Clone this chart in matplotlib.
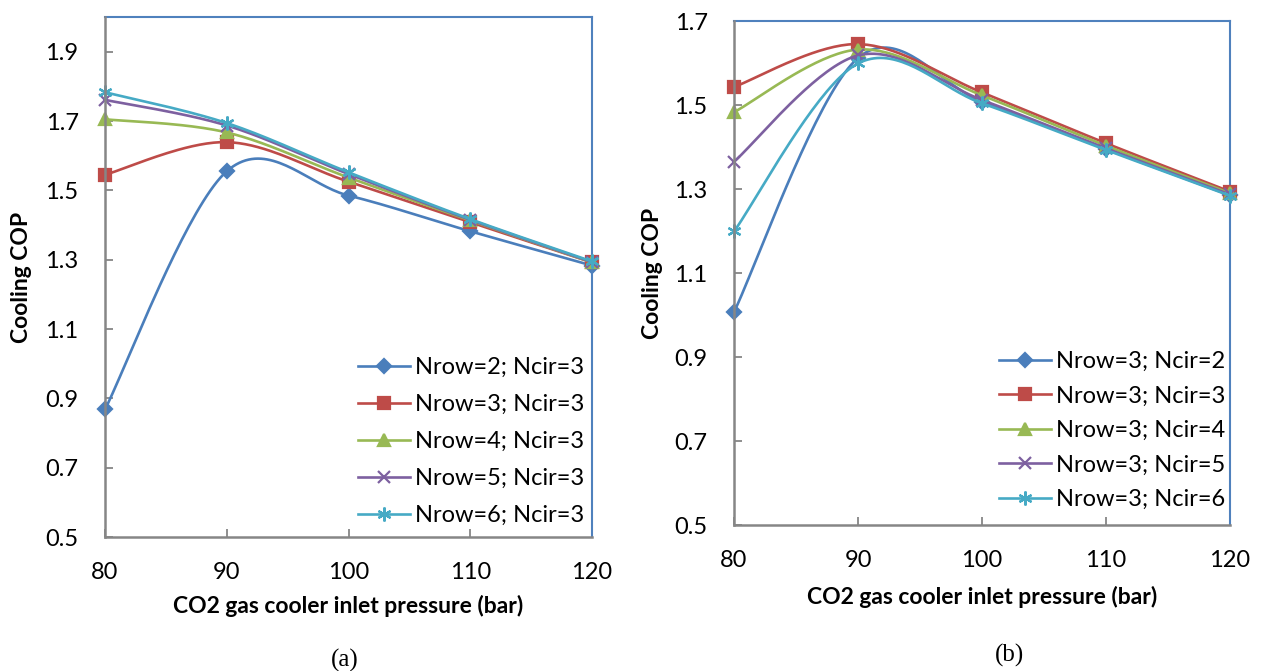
import numpy as np
import matplotlib.pyplot as plt

# pressure (bar)
pressure = [80, 90, 100, 110, 120]

# (a) Ncir = 3, varying Nrow
labels_a = ['Nrow=2; Ncir=3', 'Nrow=3; Ncir=3', 'Nrow=4; Ncir=3',
            'Nrow=5; Ncir=3', 'Nrow=6; Ncir=3']
cop_a_nrow2 = [0.868, 1.555, 1.485, 1.382, 1.283]
cop_a_nrow3 = [1.545, 1.639, 1.525, 1.408, 1.292]
cop_a_nrow4 = [1.705, 1.667, 1.537, 1.413, 1.292]
cop_a_nrow5 = [1.761, 1.687, 1.547, 1.415, 1.293]
cop_a_nrow6 = [1.783, 1.694, 1.552, 1.417, 1.295]

# (b) Nrow = 3, varying Ncir
labels_b = ['Nrow=3; Ncir=2', 'Nrow=3; Ncir=3', 'Nrow=3; Ncir=4',
            'Nrow=3; Ncir=5', 'Nrow=3; Ncir=6']
cop_b_ncir2 = [1.007, 1.612, 1.508, 1.395, 1.285]
cop_b_ncir3 = [1.543, 1.645, 1.530, 1.409, 1.294]
cop_b_ncir4 = [1.483, 1.632, 1.523, 1.403, 1.290]
cop_b_ncir5 = [1.365, 1.618, 1.512, 1.397, 1.287]
cop_b_ncir6 = [1.199, 1.599, 1.504, 1.393, 1.284]

colors = ['#4A7EBB', '#BE4B48', '#98B954', '#7D60A0', '#46AAC5']
markers = ['D', 's', '^', 'x', (6, 2, 0)]
msizes = [7, 8, 8, 9, 10]

plt.rcParams['font.family'] = ['Lato', 'DejaVu Sans']


def smooth(x, y, n=40):
    # excel-like smoothed line (catmull-rom as bezier)
    p = np.column_stack([x, y]).astype(float)
    p = np.vstack([p[0], p, p[-1]])
    out = []
    t = np.linspace(0, 1, n)[:, None]
    for i in range(1, len(p) - 2):
        p0, p1, p2, p3 = p[i - 1], p[i], p[i + 1], p[i + 2]
        c1 = p1 + (p2 - p0) / 6
        c2 = p2 - (p3 - p1) / 6
        seg = ((1 - t) ** 3 * p1 + 3 * (1 - t) ** 2 * t * c1
               + 3 * (1 - t) * t ** 2 * c2 + t ** 3 * p2)
        out.append(seg)
    seg = np.vstack(out)
    return seg[:, 0], seg[:, 1]


def draw(ax, series, labels, ylim, yticks, leg_anchor, leg_space,
         ylab_x, xlab_y):
    for i, ys in enumerate(series):
        sx, sy = smooth(pressure, ys)
        ax.plot(sx, sy, color=colors[i], lw=1.9, zorder=2 + i, clip_on=False)
        ax.plot(pressure, ys, ls='none', marker=markers[i], ms=msizes[i],
                color=colors[i], mew=1.6, zorder=2 + i, clip_on=False)
    # legend proxies
    handles = [plt.Line2D([], [], color=colors[i], lw=1.9, marker=markers[i],
                          ms=msizes[i], mew=1.6) for i in range(len(series))]
    ax.legend(handles, labels, loc='lower right', bbox_to_anchor=leg_anchor,
              frameon=False, fontsize=17, handlelength=2.2,
              handletextpad=0.2, labelspacing=leg_space,
              borderaxespad=0, borderpad=0)
    ax.set_xlim(80, 120)
    ax.set_ylim(*ylim)
    ax.set_xticks(pressure)
    ax.set_yticks(yticks)
    ax.set_yticklabels([f'{v:.1f}' for v in yticks])
    ax.tick_params(direction='in', length=6, width=1.3, color='#868686',
                   labelsize=17)
    ax.tick_params(axis='x', pad=18)
    ax.tick_params(axis='y', pad=19)
    for s in ['left', 'bottom']:
        ax.spines[s].set_color('#868686')
        ax.spines[s].set_linewidth(1.8)
        ax.spines[s].set_zorder(10)
    for s in ['top', 'right']:
        ax.spines[s].set_color('#4F81BD')
        ax.spines[s].set_linewidth(1.5)
    ax.set_xlabel('CO2 gas cooler inlet pressure (bar)', fontsize=16.5,
                  fontweight='bold')
    ax.set_ylabel('Cooling COP', fontsize=16.5, fontweight='bold')
    ax.yaxis.set_label_coords(ylab_x, 0.5)
    ax.xaxis.set_label_coords(0.5, xlab_y)


fig = plt.figure(figsize=(12.61, 6.71), dpi=100)
ax1 = fig.add_axes([105 / 1261, 1 - 537 / 671, 487 / 1261, 520 / 671])
ax2 = fig.add_axes([734 / 1261, 1 - 525 / 671, 496 / 1261, 504 / 671])

draw(ax1, [cop_a_nrow2, cop_a_nrow3, cop_a_nrow4, cop_a_nrow5, cop_a_nrow6],
     labels_a, (0.5, 2.0), np.arange(0.5, 1.95, 0.2),
     (0.984, 0.021), 0.68, -0.150, -0.112)
draw(ax2, [cop_b_ncir2, cop_b_ncir3, cop_b_ncir4, cop_b_ncir5, cop_b_ncir6],
     labels_b, (0.5, 1.7), np.arange(0.5, 1.75, 0.2),
     (0.990, 0.030), 0.57, -0.143, -0.121)

fig.text(345 / 1261, 1 - 660 / 671, '(a)', ha='center', va='center',
         family='Liberation Serif', fontsize=18)
fig.text(1010 / 1261, 1 - 655 / 671, '(b)', ha='center', va='center',
         family='Liberation Serif', fontsize=18)

fig.savefig('out.png', dpi=100)
